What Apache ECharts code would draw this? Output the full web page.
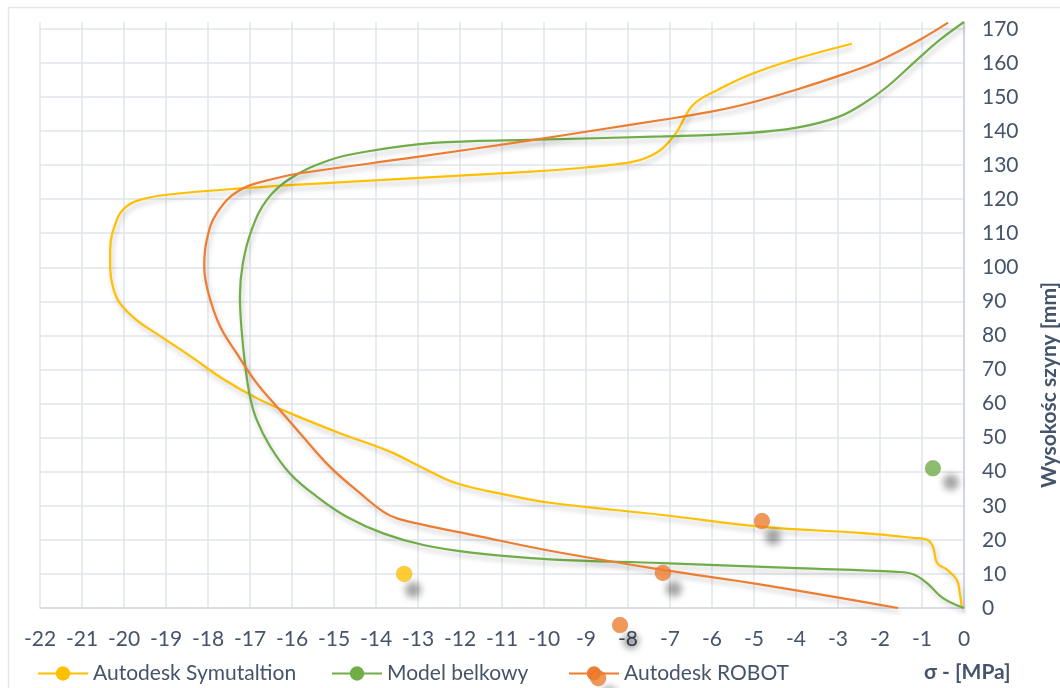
<!DOCTYPE html>
<html>
<head>
<meta charset="utf-8">
<script src="https://cdn.jsdelivr.net/npm/echarts@6/dist/echarts.min.js"></script>
<style>
  html, body { margin: 0; padding: 0; background: #ffffff; }
  #chart { width: 1060px; height: 688px; }
</style>
</head>
<body>
<div id="chart"></div>
<script>
// ---- Data (stress σ [MPa], height [mm]) ----
const seriesNames = ['Autodesk Symutaltion', 'Model belkowy', 'Autodesk ROBOT'];

const symStress = [-2.67, -4.07, -5.1, -5.88, -6.3, -6.5, -6.65, -6.85, -7.17, -7.55, -7.95, -9.0, -10.4, -15.1, -17.07, -18.98, -19.62, -19.95, -20.17, -20.33, -20.33, -20.26, -20.1, -19.7, -19.2, -18.43, -17.64, -16.84, -16.05, -14.86, -13.67, -12.87, -12.08, -10.89, -9.86, -7.17, -4.79, -2.4, -1.21, -0.88, -0.74, -0.64, -0.4, -0.17, -0.1, -0.05];
const symHeight = [165.6, 160.9, 156.5, 152, 149.2, 147, 144, 139.5, 135, 132.2, 130.8, 129.3, 128, 124.8, 123.3, 121.3, 119.8, 117.8, 114, 105, 100, 94, 89.5, 84.5, 80.3, 74, 67.2, 61.6, 57.2, 51.3, 45.9, 41, 36.6, 33.2, 30.9, 27.3, 23.8, 22, 20.6, 20, 18, 13.2, 11.2, 8.2, 4.4, 0];

const beamStress = [0, -0.57, -1.12, -1.83, -2.4, -3.02, -3.98, -5.17, -7.17, -10.4, -12.64, -14.21, -15.1, -16.05, -16.6, -16.96, -17.17, -17.24, -17.2, -17.12, -17.0, -16.84, -16.52, -16.05, -15.41, -14.7, -13.83, -12.87, -11.68, -9.86, -7.17, -3.98, -1.6, -1.21, -0.88, -0.5, 0];
const beamHeight = [172, 166.8, 160.9, 153, 148, 144, 141, 139.4, 138.4, 137.4, 136.5, 134, 131.5, 126, 119.8, 111, 101.2, 91.4, 81.6, 71.8, 62, 55.2, 47.4, 39.5, 32.7, 26.8, 21.9, 18.5, 16.2, 14.3, 13.2, 11.7, 10.6, 9.9, 7.3, 2.9, 0];

const robotStress = [-0.38, -1.05, -2.07, -2.79, -3.98, -5.17, -6.05, -7.17, -8.74, -10.4, -13.02, -15.81, -16.36, -17.24, -17.79, -18.03, -18.09, -17.99, -17.71, -17.32, -16.84, -16.36, -15.81, -15.1, -14.38, -13.83, -13.5, -12.87, -11.68, -9.86, -7.17, -4.79, -1.57];
const robotHeight = [171.8, 166.8, 160.3, 157, 152.2, 148, 145.6, 143.3, 140.3, 137.1, 132.4, 127.6, 126.2, 122.7, 115.9, 108, 100.2, 92.4, 82.6, 74.8, 66, 59.1, 51.3, 41.5, 33.7, 28.3, 26.3, 24.4, 21.4, 16.8, 11.2, 6.8, 0];

// stray marker points visible in the picture
const symMarkX = [-13.33];
const symMarkY = [10];
const beamMarkX = [-0.74];
const beamMarkY = [41];
const robotMarkX = [-4.81, -7.17, -8.19, -8.71];
const robotMarkY = [25.5, 10.3, -5, -20.6];

const xTicks = { min: -22, max: 0, step: 1 };
const yTicks = { min: 0, max: 172, step: 10 };

const xAxisTitle = 'σ - [MPa]';
const yAxisTitle = 'Wysokośc szyny [mm]';

// ---- Build ----
const zip = (a, b) => a.map((v, i) => [v, b[i]]);
const colors = ['#FFC000', '#70AD47', '#ED7D31'];
const textColor = '#44546A';
const font = 'Lato, "Open Sans", sans-serif';

function lineSeries(name, xs, ys, color) {
  return {
    name: name, type: 'line', data: zip(xs, ys),
    smooth: 0.4, showSymbol: false, symbol: 'circle', symbolSize: 14,
    color: color,
    lineStyle: { width: 2.2, color: color, shadowColor: 'rgba(0,0,0,0.22)', shadowBlur: 5, shadowOffsetX: 2, shadowOffsetY: 4 },
    itemStyle: { color: color },
    clip: false, z: 3
  };
}
function markSeries(name, xs, ys, color, offX, offY) {
  return {
    name: name + ' pts', type: 'scatter', data: zip(xs, ys),
    symbol: 'circle', symbolSize: 16, clip: false, z: 4,
    itemStyle: {
      color: color, borderColor: 'rgba(0,0,0,0.08)', borderWidth: 1,
      shadowColor: 'rgba(0,0,0,0.45)', shadowBlur: 7, shadowOffsetX: offX, shadowOffsetY: offY
    },
    emphasis: { disabled: true }
  };
}

const chart = echarts.init(document.getElementById('chart'), null, { renderer: 'canvas' });

const legendBase = {
  top: 663, padding: 0, itemWidth: 50, itemHeight: 18, itemGap: 7,
  textStyle: { fontSize: 21, color: textColor, fontFamily: font },
  selectedMode: false
};

chart.setOption({
  animation: false,
  backgroundColor: '#ffffff',
  textStyle: { fontFamily: font },
  grid: { left: 40, right: 96, top: 22, bottom: 80, containLabel: false },
  xAxis: {
    type: 'value', min: xTicks.min, max: xTicks.max, interval: xTicks.step,
    axisLine: { show: true, onZero: false, lineStyle: { color: '#D5DAE2', width: 1.5 } },
    axisTick: { show: false },
    axisLabel: { margin: 21, fontSize: 21, color: textColor, fontFamily: font },
    splitLine: { show: true, lineStyle: { color: '#E1E5EB', width: 1.5 } }
  },
  yAxis: {
    type: 'value', position: 'right', min: yTicks.min, max: yTicks.max, interval: yTicks.step,
    axisLine: { show: true, onZero: false, lineStyle: { color: '#C9D0DA', width: 1.5 } },
    axisTick: { show: false },
    axisLabel: { margin: 18, fontSize: 21, color: textColor, fontFamily: font, showMaxLabel: false },
    splitLine: { show: true, showMaxLine: false, lineStyle: { color: '#E1E5EB', width: 1.5 } }
  },
  legend: [
    Object.assign({}, legendBase, { left: 37, data: [seriesNames[0]] }),
    Object.assign({}, legendBase, { left: 331, data: [seriesNames[1]] }),
    Object.assign({}, legendBase, { left: 568, data: [seriesNames[2]] })
  ],
  graphic: [
    { type: 'rect', silent: true, z: -10, shape: { x: 8.5, y: 7.5, width: 1100, height: 700 },
      style: { fill: 'none', stroke: '#E3E6EB', lineWidth: 1.5 } },
    { type: 'text', x: 924, y: 672,
      style: { text: xAxisTitle, fill: textColor, verticalAlign: 'middle', font: 'bold 21px Lato, sans-serif' } },
    { type: 'text', x: 1049, y: 385, rotation: Math.PI / 2,
      style: { text: yAxisTitle, fill: textColor, align: 'center', verticalAlign: 'middle', font: 'bold 21px Lato, sans-serif' } }
  ],
  series: [
    lineSeries(seriesNames[0], symStress, symHeight, colors[0]),
    lineSeries(seriesNames[1], beamStress, beamHeight, colors[1]),
    lineSeries(seriesNames[2], robotStress, robotHeight, colors[2]),
    markSeries(seriesNames[0], symMarkX, symMarkY, colors[0], 9, 16),
    markSeries(seriesNames[1], beamMarkX, beamMarkY, colors[1], 18, 14),
    markSeries(seriesNames[2], robotMarkX, robotMarkY, colors[2], 11, 16)
  ]
});
</script>
</body>
</html>
